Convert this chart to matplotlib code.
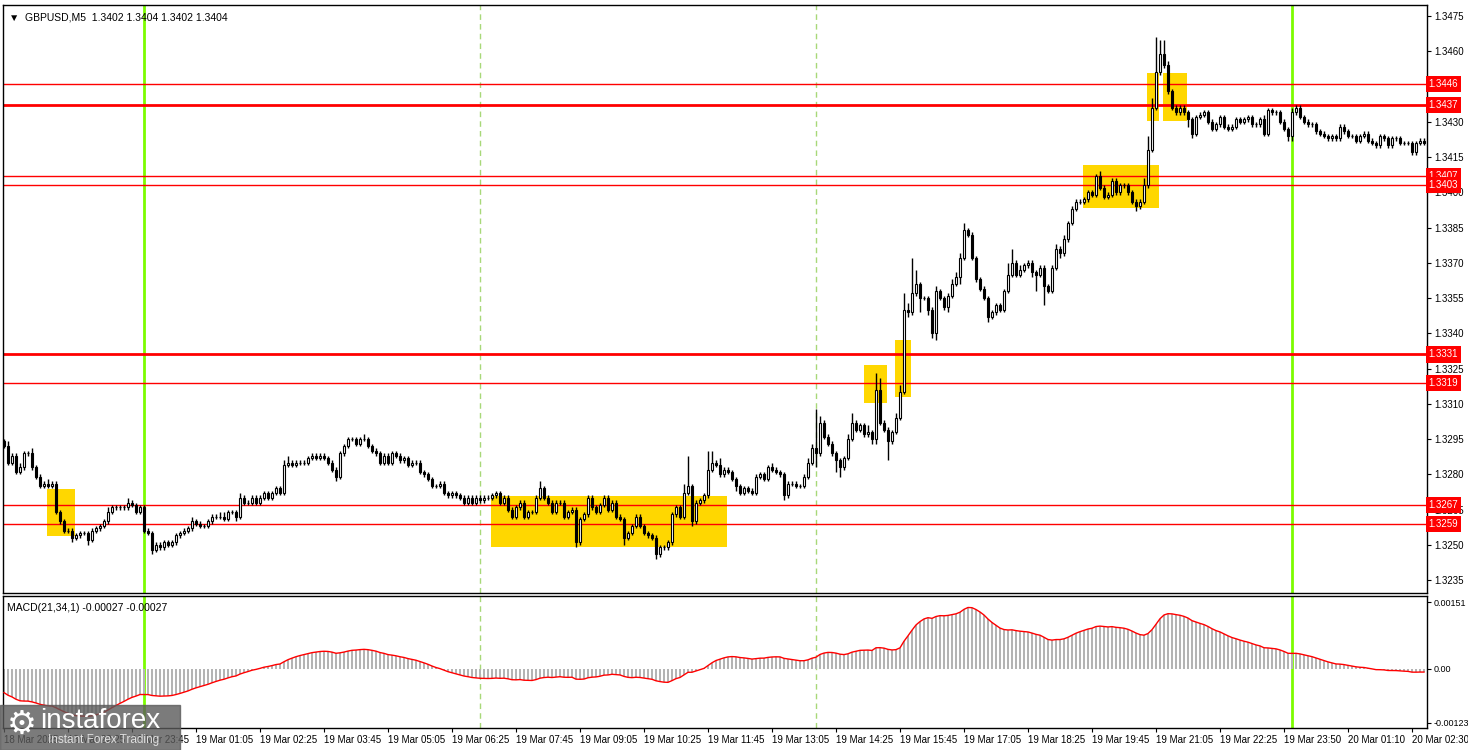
import numpy as np
import matplotlib
matplotlib.use('Agg')
import matplotlib.pyplot as plt
from matplotlib.patches import Rectangle

plt.rcParams['font.family'] = ['Liberation Sans', 'DejaVu Sans']

# GBPUSD M5, close in pips above 1.3200 (open = previous close)
first_open = 94
close_pips = [
    92, 85, 88, 81, 83, 89, 89, 83, 79, 75, 76, 75, 76, 64, 60, 56, 56, 53, 54, 55,
    55, 52, 56, 57, 58, 60, 64, 66, 66, 66, 66, 68, 67, 64, 66, 56, 55, 48, 50, 49,
    51, 50, 51, 54, 55, 56, 57, 60, 59, 58, 58, 60, 62, 62, 62, 61, 64, 64, 62, 70,
    68, 68, 70, 68, 70, 72, 70, 72, 74, 72, 84, 85, 84, 85, 85, 85, 87, 88, 87, 88,
    87, 85, 82, 79, 89, 92, 95, 95, 93, 95, 95, 92, 90, 89, 85, 88, 85, 89, 88, 86,
    87, 84, 85, 85, 81, 80, 78, 75, 75, 76, 72, 71, 72, 71, 70, 68, 70, 68, 70, 69,
    70, 70, 71, 72, 68, 70, 65, 62, 66, 68, 62, 64, 64, 70, 74, 70, 68, 64, 68, 68,
    62, 64, 65, 51, 61, 63, 70, 66, 64, 67, 70, 65, 68, 62, 61, 53, 55, 58, 62, 58,
    55, 54, 53, 46, 49, 49, 51, 63, 66, 62, 72, 75, 60, 68, 69, 71, 82, 85, 84, 80,
    82, 81, 78, 75, 72, 74, 73, 72, 79, 80, 78, 83, 82, 81, 80, 71, 76, 76, 75, 75,
    79, 85, 91, 89, 102, 96, 93, 89, 86, 83, 87, 95, 102, 99, 101, 97, 98, 95, 116, 102,
    99, 94, 98, 104, 115, 150, 149, 157, 161, 155, 155, 150, 140, 158, 155, 151, 156, 161, 164, 172,
    184, 182, 172, 163, 159, 155, 147, 149, 152, 150, 158, 165, 170, 165, 167, 169, 170, 166, 165, 168,
    160, 158, 168, 176, 174, 180, 187, 193, 196, 196, 197, 200, 199, 207, 202, 198, 199, 205, 200, 203,
    203, 200, 196, 194, 196, 203, 218, 236, 251, 259, 254, 243, 236, 234, 236, 234, 231, 225, 232, 233,
    234, 230, 227, 229, 232, 228, 227, 228, 231, 230, 231, 232, 229, 229, 231, 225, 235, 234, 234, 230,
    227, 224, 234, 236, 232, 230, 229, 229, 226, 225, 224, 223, 224, 223, 228, 226, 224, 224, 222, 224,
    225, 222, 221, 220, 224, 223, 220, 223, 223, 221, 221, 221, 217, 221, 222, 221,
]
upper_wick = [
    1, 2, 1, 1, 2, 1, 1, 2, 1, 1, 1, 2, 1, 1, 1, 1, 1, 1, 1, 1,
    1, 1, 1, 1, 1, 1, 2, 1, 1, 1, 1, 2, 1, 1, 1, 1, 1, 1, 1, 1,
    1, 1, 1, 1, 1, 1, 1, 2, 1, 1, 1, 1, 1, 1, 2, 2, 1, 1, 1, 2,
    1, 1, 1, 1, 1, 1, 1, 1, 1, 1, 2, 3, 1, 1, 1, 1, 1, 1, 1, 1,
    1, 1, 1, 1, 1, 1, 1, 1, 1, 1, 2, 1, 1, 1, 1, 1, 1, 1, 1, 1,
    1, 1, 1, 1, 1, 1, 1, 1, 1, 1, 1, 1, 1, 1, 1, 1, 1, 1, 1, 1,
    1, 1, 1, 1, 1, 1, 1, 1, 1, 1, 1, 1, 1, 1, 3, 1, 1, 1, 1, 1,
    1, 1, 1, 1, 1, 1, 1, 1, 1, 1, 1, 1, 1, 1, 1, 1, 1, 1, 1, 1,
    1, 1, 1, 1, 1, 1, 1, 1, 1, 1, 4, 13, 1, 1, 1, 1, 8, 5, 1, 3,
    1, 1, 1, 1, 1, 1, 1, 1, 1, 1, 1, 1, 2, 1, 1, 1, 1, 1, 1, 1,
    1, 2, 2, 17, 3, 1, 1, 1, 1, 1, 1, 2, 4, 1, 1, 1, 3, 1, 7, 5,
    1, 1, 1, 2, 3, 7, 3, 15, 6, 1, 1, 1, 1, 2, 1, 1, 1, 2, 2, 2,
    3, 1, 1, 1, 1, 1, 1, 1, 1, 1, 1, 5, 6, 1, 2, 1, 1, 1, 1, 1,
    1, 1, 1, 2, 1, 2, 1, 1, 1, 1, 1, 1, 1, 1, 2, 1, 1, 1, 1, 1,
    1, 1, 1, 1, 1, 3, 6, 4, 15, 6, 6, 2, 1, 1, 1, 1, 1, 1, 1, 1,
    1, 1, 1, 1, 1, 1, 1, 1, 1, 1, 1, 1, 1, 1, 1, 2, 1, 1, 1, 1,
    1, 1, 2, 1, 1, 1, 1, 1, 1, 1, 1, 1, 1, 1, 1, 1, 1, 1, 1, 1,
    1, 1, 1, 1, 1, 1, 1, 1, 1, 1, 1, 1, 1, 1, 1, 1,
]
lower_wick = [
    1, 1, 1, 1, 1, 1, 1, 1, 1, 1, 1, 1, 1, 1, 1, 1, 1, 2, 1, 1,
    1, 2, 1, 1, 1, 1, 1, 1, 1, 1, 1, 1, 1, 1, 1, 1, 1, 2, 1, 1,
    1, 1, 1, 1, 1, 1, 1, 1, 1, 1, 1, 1, 1, 1, 1, 1, 1, 1, 2, 1,
    1, 1, 1, 1, 1, 1, 1, 1, 1, 1, 1, 1, 1, 1, 1, 1, 1, 1, 1, 1,
    1, 1, 1, 2, 1, 1, 1, 1, 1, 1, 1, 1, 1, 1, 1, 1, 1, 1, 1, 1,
    1, 1, 1, 1, 1, 1, 1, 1, 1, 1, 1, 1, 1, 1, 1, 1, 1, 1, 1, 1,
    1, 1, 1, 1, 1, 1, 1, 1, 1, 1, 1, 1, 1, 1, 1, 1, 1, 1, 1, 1,
    1, 1, 1, 2, 1, 1, 1, 1, 1, 1, 1, 1, 1, 1, 1, 3, 1, 1, 1, 1,
    1, 1, 1, 2, 1, 1, 1, 1, 1, 1, 1, 1, 2, 1, 1, 1, 1, 1, 1, 1,
    1, 1, 1, 2, 1, 1, 1, 1, 1, 1, 1, 1, 1, 1, 1, 2, 1, 1, 1, 1,
    1, 1, 1, 6, 1, 1, 1, 1, 5, 4, 1, 1, 1, 1, 1, 1, 1, 2, 2, 1,
    1, 8, 1, 1, 1, 1, 2, 1, 1, 6, 1, 2, 2, 3, 1, 1, 2, 1, 1, 3,
    1, 1, 1, 1, 1, 1, 2, 1, 1, 1, 1, 1, 1, 1, 1, 1, 1, 2, 7, 1,
    8, 1, 1, 1, 2, 1, 1, 1, 1, 1, 1, 1, 1, 1, 1, 1, 1, 1, 1, 1,
    1, 1, 1, 2, 1, 1, 1, 1, 1, 1, 1, 1, 1, 1, 1, 1, 3, 2, 1, 1,
    1, 1, 1, 1, 1, 1, 1, 1, 1, 1, 1, 1, 1, 1, 1, 1, 1, 1, 1, 1,
    1, 2, 2, 1, 1, 1, 1, 1, 1, 1, 1, 1, 1, 1, 1, 1, 1, 1, 1, 1,
    1, 1, 1, 1, 1, 1, 1, 1, 1, 1, 1, 1, 1, 1, 1, 1,
]

time_labels = ['18 Mar 2025', '18 Mar 22:25', '18 Mar 23:45', '19 Mar 01:05', '19 Mar 02:25',
               '19 Mar 03:45', '19 Mar 05:05', '19 Mar 06:25', '19 Mar 07:45', '19 Mar 09:05',
               '19 Mar 10:25', '19 Mar 11:45', '19 Mar 13:05', '19 Mar 14:25', '19 Mar 15:45',
               '19 Mar 17:05', '19 Mar 18:25', '19 Mar 19:45', '19 Mar 21:05', '19 Mar 22:25',
               '19 Mar 23:50', '20 Mar 01:10', '20 Mar 02:30']

levels = [1.3446, 1.3437, 1.3407, 1.3403, 1.3331, 1.3319, 1.3267, 1.3259]
macd_start = (0.0022, 0.0027)   # ema21/ema34 offsets above first close at left edge

day_bars = [35, 322]
session_bars = [119, 203]
# signal zones: bar from, bar to, price low, price high
zones = [(10.75, 17.75, 1.32537, 1.32737), (121.75, 180.75, 1.32491, 1.32707),
         (215.0, 220.75, 1.33103, 1.33265), (222.75, 226.75, 1.33129, 1.33371),
         (269.75, 288.75, 1.33933, 1.34116), (285.75, 288.75, 1.34304, 1.34506),
         (289.75, 295.75, 1.34304, 1.34506)]

# ---------------------------------------------------------------
c = 1.32 + np.array(close_pips) / 10000.0
o = np.concatenate([[1.32 + first_open / 10000.0], c[:-1]])
h = np.maximum(o, c) + np.array(upper_wick) / 10000.0
l = np.minimum(o, c) - np.array(lower_wick) / 10000.0
n = len(c)
x = np.arange(n)

# MACD(21,34,1)
ef = c[0] + macd_start[0]
es = c[0] + macd_start[1]
macd = []
for v in c:
    ef = ef + 2.0 / 22 * (v - ef)
    es = es + 2.0 / 35 * (v - es)
    macd.append(ef - es)
macd = np.array(macd)

W, H = 1468, 750
fig = plt.figure(figsize=(W / 100, H / 100), dpi=100)
ax = fig.add_axes([3 / W, 1 - 593 / H, 1424 / W, 588 / H])
ax2 = fig.add_axes([3 / W, 1 - 728 / H, 1424 / W, 132 / H])

for a in (ax, ax2):
    a.set_xlim(-0.25, n - 0.25)
    for s in a.spines.values():
        s.set_linewidth(1)
        s.set_color('black')
    a.yaxis.tick_right()
    a.tick_params(axis='y', direction='out', length=3, labelsize=7, pad=2)

ax.set_ylim(1.32295, 1.34797)
ax.set_xticks([])
yt = np.arange(1.3235, 1.3476, 0.0015)
ax.set_yticks(yt)
# 1.3445 sits under the 1.3446 level tag
ax.set_yticklabels(['' if abs(t - 1.3445) < 1e-6 else '%.4f' % t for t in yt])

for z in zones:
    ax.add_patch(Rectangle((z[0], z[2]), z[1] - z[0], z[3] - z[2], color='#FFD700', zorder=1, lw=0))

for b in day_bars:
    ax.axvline(b, color='#7CFC00', lw=2, zorder=1.5)
    ax2.axvline(b, color='#7CFC00', lw=2, zorder=1.5)
for b in session_bars:
    ax.axvline(b, color='#a8d878', lw=1, ls=(0, (4, 3)), zorder=1.5)
    ax2.axvline(b, color='#a8d878', lw=1, ls=(0, (4, 3)), zorder=1.5)

for lv in levels:
    lw = 2 if lv in (1.3437, 1.3331) else 1
    ax.axhline(lv, color='red', lw=lw, zorder=2)
    ax.text(1.0012, lv, '%.4f' % lv, transform=ax.get_yaxis_transform(), fontsize=7,
            color='white', va='center', ha='left', zorder=10, clip_on=False,
            bbox=dict(boxstyle='square,pad=0.32', fc='red', ec='none'))

# candles
ax.vlines(x, l, h, color='black', lw=1, zorder=3)
up = c >= o
ax.bar(x[up], (c - o)[up], bottom=o[up], width=0.6, color='white', edgecolor='black',
       linewidth=0.8, zorder=4)
ax.bar(x[~up], (o - c)[~up], bottom=c[~up], width=0.6, color='black', edgecolor='black',
       linewidth=0.8, zorder=4)

ax.text(0.004, 0.988, '\u25bc  GBPUSD,M5  1.3402 1.3404 1.3402 1.3404', transform=ax.transAxes,
        fontsize=7.5, va='top', ha='left')

# MACD panel
ax2.set_ylim(-0.00135, 0.00165)
ax2.bar(x, macd, width=0.5, color='#b4b4b4', zorder=2)
ax2.plot(x, macd, color='red', lw=1, zorder=3)
ax2.set_yticks([-0.00123, 0.0, 0.00151])
ax2.set_yticklabels(['-0.00123', '0.00', '0.00151'])
ax2.tick_params(axis='y', labelsize=6.5)
ax2.set_xticks(np.arange(0, n, 16))
ax2.set_xticklabels(time_labels, ha='left')
ax2.tick_params(axis='x', direction='out', length=3, labelsize=7, pad=2)
ax2.text(0.003, 0.95, 'MACD(21,34,1) -0.00027 -0.00027', transform=ax2.transAxes,
         fontsize=7.5, va='top', ha='left')

# watermark
fig.patches.append(Rectangle((0, 0), 180 / W, 45 / H, transform=fig.transFigure,
                             color='#5a5a5a', alpha=0.8, zorder=20))
fig.text(22 / W, 1 - 724 / H, '\u2699', fontsize=24, color='white', ha='center', va='center',
         zorder=21, family='DejaVu Sans')
fig.text(40 / W, 1 - 721 / H, 'instaforex', fontsize=20, color='white', ha='left', va='center', zorder=21)
fig.text(48 / W, 1 - 740 / H, 'Instant Forex Trading', fontsize=8.5, color='#e0e0e0', ha='left',
         va='center', zorder=21)

fig.savefig('out.png', dpi=100, facecolor='white')
